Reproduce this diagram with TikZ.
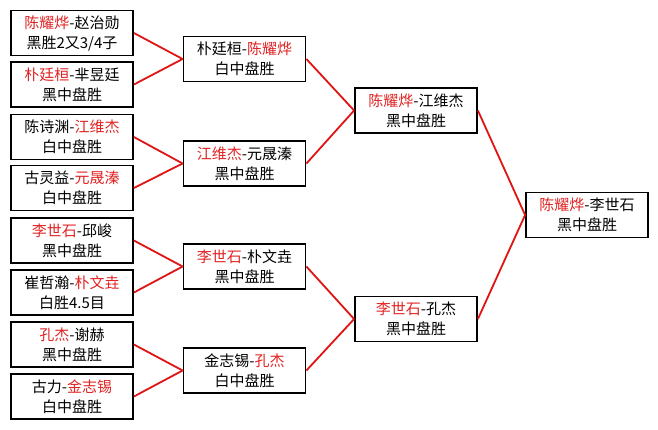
\documentclass[tikz,border=0pt]{standalone}
\usepackage{fontspec}
\setmainfont{Noto Sans CJK SC}
\definecolor{winred}{RGB}{225,35,35}
\definecolor{linered}{RGB}{225,20,20}
\begin{document}
\begin{tikzpicture}[x=1pt,y=-1pt,
  game/.style={draw=black,line width=1.8pt,fill=white,minimum width=122pt,minimum height=45pt,
    inner sep=0pt,align=center,font=\fontsize{15pt}{20pt}\selectfont},
  link/.style={draw=linered,line width=1.8pt}]
\useasboundingbox[fill=white] (0,0) rectangle (658,429);
\newcommand{\w}[1]{\textcolor{winred}{#1}}
% round 1
\node[game] (a1) at (72,33)  {\w{陈耀烨}-赵治勋\\黑胜2又3/4子};
\node[game] (a2) at (72,84.5)  {\w{朴廷桓}-芈昱廷\\黑中盘胜};
\node[game] (a3) at (72,137) {陈诗渊-\w{江维杰}\\白中盘胜};
\node[game] (a4) at (72,188) {古灵益-\w{元晟溱}\\白中盘胜};
\node[game] (a5) at (72,240.5) {\w{李世石}-邱峻\\黑中盘胜};
\node[game] (a6) at (72,292.5) {崔哲瀚-\w{朴文垚}\\白胜4.5目};
\node[game] (a7) at (72,344.5) {\w{孔杰}-谢赫\\黑中盘胜};
\node[game] (a8) at (72,396.5) {古力-\w{金志锡}\\白中盘胜};
% round 2
\node[game] (b1) at (244.5,59)    {朴廷桓-\w{陈耀烨}\\白中盘胜};
\node[game] (b2) at (244.5,163.5) {\w{江维杰}-元晟溱\\黑中盘胜};
\node[game] (b3) at (244.5,266.5) {\w{李世石}-朴文垚\\黑中盘胜};
\node[game] (b4) at (244.5,370.5) {金志锡-\w{孔杰}\\白中盘胜};
% round 3
\node[game] (c1) at (416,110.5) {\w{陈耀烨}-江维杰\\黑中盘胜};
\node[game] (c2) at (416,319)   {\w{李世石}-孔杰\\黑中盘胜};
% final
\node[game] (d1) at (587,215) {\w{陈耀烨}-李世石\\黑中盘胜};
% connectors
\draw[link] (a1.east) -- (b1.west);
\draw[link] (a2.east) -- (b1.west);
\draw[link] (a3.east) -- (b2.west);
\draw[link] (a4.east) -- (b2.west);
\draw[link] (a5.east) -- (b3.west);
\draw[link] (a6.east) -- (b3.west);
\draw[link] (a7.east) -- (b4.west);
\draw[link] (a8.east) -- (b4.west);
\draw[link] (b1.east) -- (c1.west);
\draw[link] (b2.east) -- (c1.west);
\draw[link] (b3.east) -- (c2.west);
\draw[link] (b4.east) -- (c2.west);
\draw[link] (c1.east) -- (d1.west);
\draw[link] (c2.east) -- (d1.west);
\end{tikzpicture}
\end{document}
